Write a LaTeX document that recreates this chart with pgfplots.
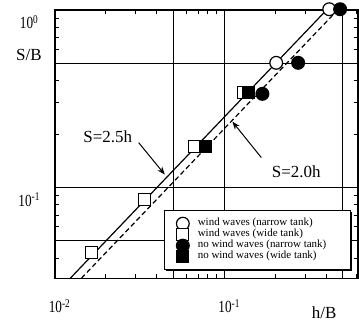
\documentclass[border=0pt]{standalone}
\usepackage{pgfplots}
\pgfplotsset{compat=1.18}
\usepackage{fontspec}
\setmainfont{Liberation Serif}
\newfontfamily\tickfont{Liberation Serif}[FakeStretch=0.78]
\usetikzlibrary{arrows.meta,shadows}
\pgfplotsset{
  limg/.style={legend image code/.code={\draw[mark repeat=2,mark phase=2,##1] plot coordinates {(-3pt,0pt) (0pt,0pt) (3pt,0pt)};}},
}
\begin{document}
\begin{tikzpicture}
\begin{axis}[
  xmode=log, ymode=log,
  scale only axis, width=152pt, height=134.5pt,
  xmin=0.01, xmax=0.614, ymin=0.0308, ymax=1,
  xtick={0.01,0.1}, xticklabels={10\textsuperscript{-2},10\textsuperscript{-1}},
  ytick={0.1,1}, yticklabels={10\textsuperscript{-1},10\textsuperscript{0}},
  minor xtick={0.02,0.03,0.04,0.05,0.06,0.07,0.08,0.09,0.2,0.3,0.4,0.5,0.6},
  minor ytick={0.04,0.05,0.06,0.07,0.08,0.09,0.2,0.3,0.4,0.5,0.6,0.7,0.8,0.9},
  extra x ticks={0.05,0.1,0.5}, extra y ticks={0.05,0.1,0.5},
  extra x tick labels={}, extra y tick labels={},
  extra tick style={grid=major, major tick length=0pt},
  major grid style={black, line width=0.5pt},
  axis line style={black, line width=0.7pt},
  tick style={black, line width=0.5pt},
  major tick length=3pt, minor tick length=2pt,
  xticklabel style={font=\tickfont\fontsize{8.5}{9}\selectfont, anchor=center, yshift=-14pt, xshift=2.5pt},
  yticklabel style={font=\tickfont\fontsize{8.5}{9}\selectfont, anchor=center, xshift=-12.75pt, yshift=-6pt},
  clip=false,
  legend style={at={(rel axis cs:0.977,0.030)}, anchor=south east, draw=black, line width=0.7pt,
    fill=white, drop shadow={shadow xshift=0.7pt, shadow yshift=-0.7pt, fill=black, opacity=1},
    font=\fontsize{5.5}{5.6}\selectfont, inner xsep=6pt, inner ysep=3.5pt, row sep=-0.7pt,
    nodes={inner sep=0pt}, cells={anchor=west},
    /tikz/every odd column/.append style={column sep=4.3pt}},
]
\addplot[black, line width=0.6pt, forget plot] coordinates {(0.01232,0.0308) (0.4,1.0)};
\addplot[black, line width=0.6pt, dash pattern=on 2.5pt off 1.5pt, forget plot] coordinates {(0.01433,0.0308) (0.4651,1.0)};

\addplot[only marks, mark=*, mark size=3.2pt, line width=0.6pt, draw=black, fill=white, limg] coordinates {(0.415,1.01) (0.202,0.504)};
\addlegendentry{\makebox[70.5pt][l]{wind waves (narrow tank)}}
\addplot[only marks, mark=square*, mark size=3pt, line width=0.6pt, draw=black, fill=white, limg] coordinates {(0.01653,0.0431) (0.0338,0.0857) (0.0667,0.170) (0.129,0.342)};
\addlegendentry{\makebox[70.5pt][l]{wind waves (wide tank)}}
\addplot[only marks, mark=*, mark size=3.2pt, line width=0.6pt, draw=black, fill=black, limg] coordinates {(0.481,1.01) (0.272,0.504) (0.1675,0.337)};
\addlegendentry{\makebox[70.5pt][l]{no wind waves (narrow tank)}}
\addplot[only marks, mark=square*, mark size=3pt, line width=0.6pt, draw=black, fill=black, limg] coordinates {(0.0773,0.170) (0.138,0.342)};
\addlegendentry{\makebox[70.5pt][l]{no wind waves (wide tank)}}

\node[font=\fontsize{8.5}{9}\selectfont] at (axis cs:0.0205,0.1935) {S=2.5h};
\draw[-{Stealth[length=4pt,width=3pt]}, line width=0.5pt] (axis cs:0.0312,0.179) -- (axis cs:0.0445,0.1183);
\node[font=\fontsize{8.5}{9}\selectfont] at (axis cs:0.2652,0.123) {S=2.0h};
\draw[-{Stealth[length=4pt,width=3pt]}, line width=0.5pt] (axis cs:0.165,0.1475) -- (axis cs:0.1114,0.235);

\node[font=\fontsize{8.5}{9}\selectfont] at (rel axis cs:-0.0855,0.8327) {S/B};
\node[font=\fontsize{8.5}{9}\selectfont] at (rel axis cs:0.888,-0.1264) {h/B};

\coordinate (bbsw) at (rel axis cs:-0.1809,-0.1599);
\coordinate (bbne) at (rel axis cs:1.003,1.0372);
\end{axis}
\pgfresetboundingbox
\path[use as bounding box] (bbsw) rectangle (bbne);
\end{tikzpicture}
\end{document}
